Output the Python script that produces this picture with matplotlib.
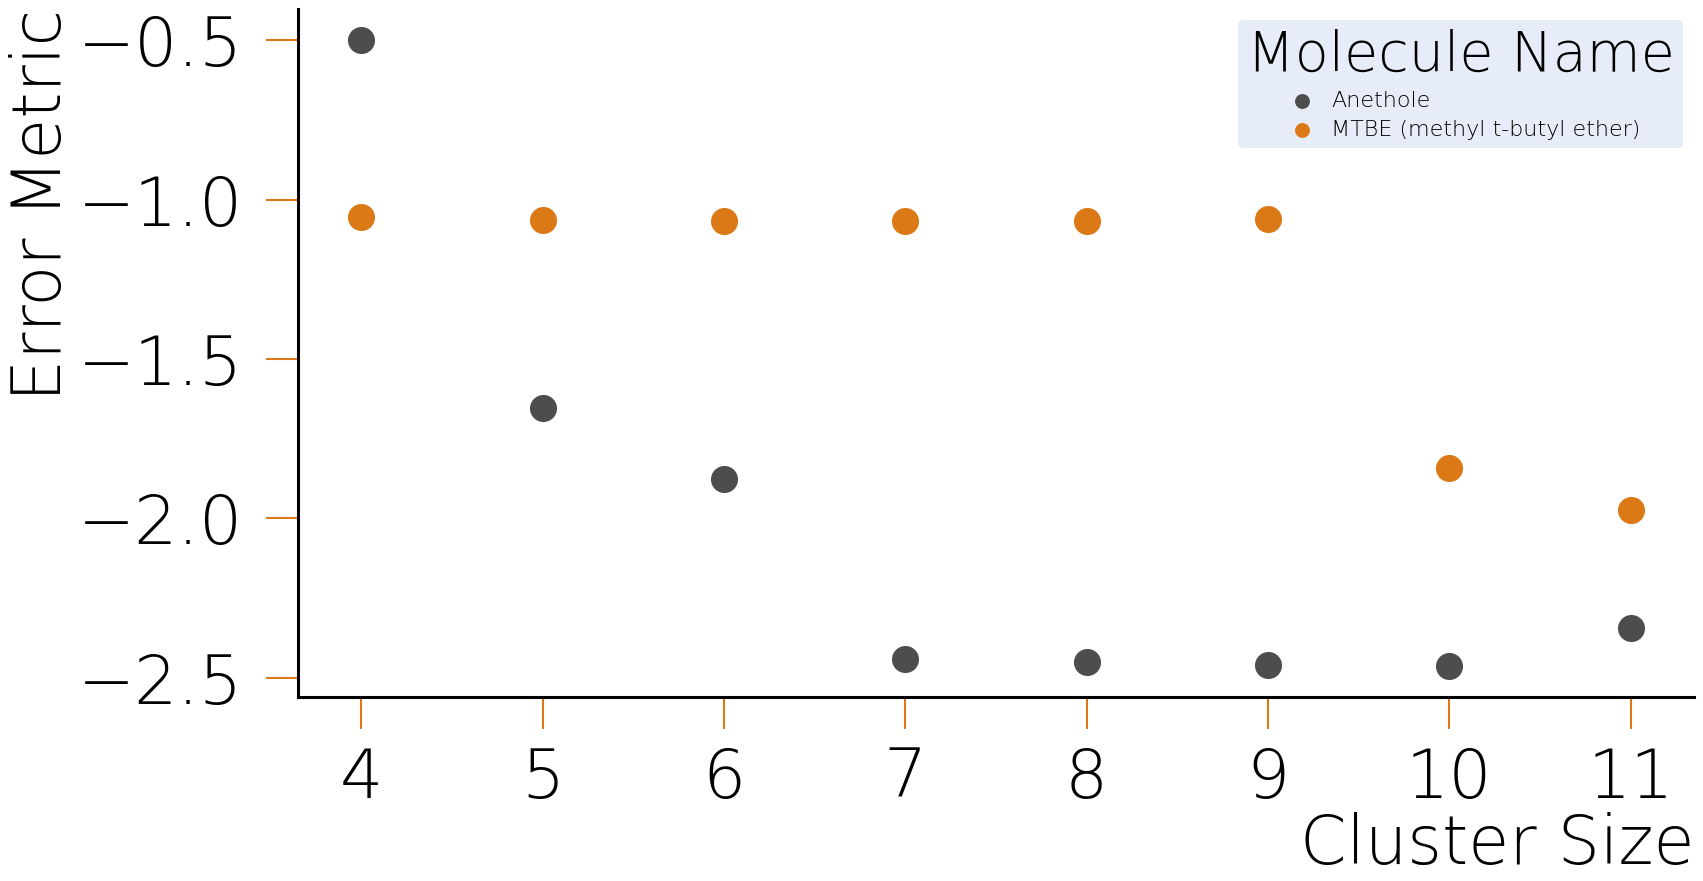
import numpy as np
import matplotlib
matplotlib.use("Agg")
import matplotlib.pyplot as plt

plt.rcParams['font.family'] = ['DejaVu Sans']
plt.rcParams['font.weight'] = 'ultralight'
plt.rcParams['axes.labelweight'] = 'ultralight'

cluster_size = [4, 5, 6, 7, 8, 9, 10, 11]
anethole = [-0.50, -1.655, -1.877, -2.442, -2.452, -2.461, -2.463, -2.344]
mtbe = [-1.055, -1.064, -1.066, -1.066, -1.066, -1.062, -1.843, -1.975]
names = ['Anethole', 'MTBE (methyl t-butyl ether)']
colors = ['#4d4d4d', '#db7917']

fig = plt.figure(figsize=(17.03, 8.81), dpi=100)
ax = fig.add_axes([298 / 1703, 1 - 697 / 881, (1694 - 298) / 1703, (697 - 9) / 881])

for vals, name, c in zip([anethole, mtbe], names, colors):
    ax.scatter(cluster_size, vals, s=380, color=c, linewidths=0, label=name)

ax.spines['top'].set_visible(False)
ax.spines['right'].set_visible(False)
for s in ['left', 'bottom']:
    ax.spines[s].set_linewidth(2.2)

ax.set_xticks(cluster_size)
ax.set_yticks([-0.5, -1.0, -1.5, -2.0, -2.5])
ax.tick_params(axis='both', length=23, width=1.5, color='#db7917', labelsize=49)
ax.tick_params(axis='x', pad=12)
ax.tick_params(axis='y', pad=17)

ax.set_xlabel('Cluster Size', fontsize=48, loc='right', labelpad=0)
ax.set_ylabel('Error Metric', fontsize=48, loc='top', labelpad=2)

leg = ax.legend(title='Molecule Name', loc='upper right', fontsize=16,
                title_fontsize=40, markerscale=0.55, facecolor='#e6edf8',
                edgecolor='none', framealpha=1, borderaxespad=0.5,
                borderpad=0.38, labelspacing=0.38, handletextpad=0.3)

plt.savefig('out.png', dpi=100)
